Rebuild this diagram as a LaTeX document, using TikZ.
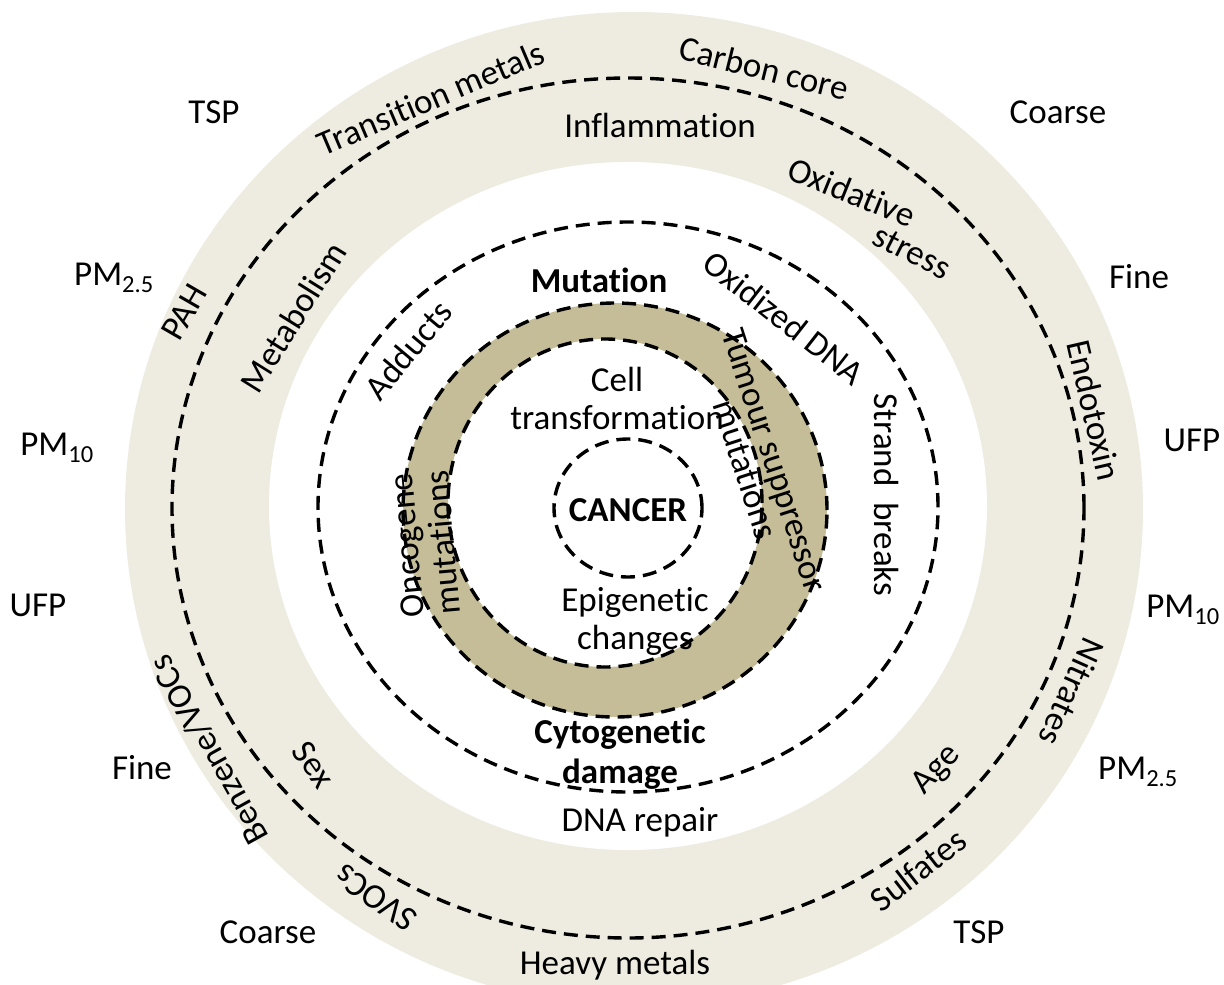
\documentclass[tikz,border=0pt]{standalone}
\usepackage{fontspec}
\setmainfont{Carlito}[Ligatures=NoCommon]
\definecolor{tanlight}{RGB}{238,236,225}
\definecolor{tandark}{RGB}{196,189,151}

\begin{document}
\begin{tikzpicture}[x=1pt,y=-1pt]
\tikzset{dashring/.style={draw=black,line width=3.4pt,dash pattern=on 14pt off 8pt}}
\tikzset{every node/.style={font=\fontsize{35}{38}\selectfont,inner sep=0pt,align=center}}
\tikzset{bold/.style={font=\fontsize{35}{40}\selectfont\bfseries}}
\useasboundingbox (0,0) rectangle (1224,985);
\fill[tanlight] (634,509) ellipse [x radius=509pt, y radius=497pt];
\fill[white] (628,506) ellipse [x radius=359pt, y radius=344pt];
\fill[tandark,even odd rule] (615,510) ellipse [x radius=212pt, y radius=207pt]
  (605,503) ellipse [x radius=157pt, y radius=164pt];
\draw[dashring] (628,508) ellipse [x radius=456pt, y radius=430pt];
\draw[dashring] (628,507) ellipse [x radius=310pt, y radius=285pt];
\draw[dashring] (615,510) ellipse [x radius=212pt, y radius=207pt];
\draw[dashring] (605,503) ellipse [x radius=157pt, y radius=164pt];
\draw[dashring] (628,508) ellipse [x radius=74pt, y radius=69pt];
\node (tspl) at (214,112) {TSP};
\node (pmtwol) at (114,278) {PM\textsubscript{2.5}};
\node (pmtenl) at (57,448) {PM\textsubscript{10}};
\node (ufpl) at (38,605) {UFP};
\node (finel) at (142,768) {Fine};
\node (coarsel) at (268,932) {Coarse};
\node (coarser) at (1058,112) {Coarse};
\node (finer) at (1139,277) {Fine};
\node (ufpr) at (1192,440) {UFP};
\node (pmtenr) at (1183,610) {PM\textsubscript{10}};
\node (pmtwor) at (1138,772) {PM\textsubscript{2.5}};
\node (tspr) at (979,932) {TSP};
\node[rotate=23] (trans) at (431,98) {Transition metals};
\node[rotate=-14] (carbon) at (764,68) {Carbon core};
\node[rotate=60] (pah) at (184,312) {PAH};
\node[rotate=-77] (endo) at (1094,410) {Endotoxin};
\node[rotate=119] (benz) at (209,750) {Benzene/VOCs};
\node[rotate=145] (svoc) at (376,898) {SVOCs};
\node[rotate=-114] (nitr) at (1072,692) {Nitrates};
\node[rotate=38] (sulf) at (918,870) {Sulfates};
\node (heavy) at (615,965) {Heavy metals};
\node (infl) at (660,125) {Inflammation};
\node[rotate=-22] (oxid) at (852,192) {Oxidative};
\node[rotate=-27] (stress) at (912,252) {stress};
\node[rotate=58] (metab) at (293,317) {Metabolism};
\node[rotate=-55] (sex) at (314,765) {Sex};
\node[rotate=47] (age) at (937,770) {Age};
\node (repair) at (640,822) {DNA repair};
\node[bold] (mut) at (599,280) {Mutation};
\node[rotate=50] (add) at (408,350) {Adducts};
\node[rotate=-38] (oxdna) at (784,318) {Oxidized DNA};
\node[rotate=-90] (strand) at (887,495) {Strand\ \ breaks};
\node[rotate=-72,font=\fontsize{35}{25}\selectfont] (tumour) at (760,465) {Tumour suppressor\\mutations};
\node[rotate=95,font=\fontsize{35}{36}\selectfont] (onco) at (425,544) {Oncogene\\mutations};
\node (cell) at (617,398) {Cell\\transformation};
\node[bold] (cancer) at (628,510) {CANCER};
\node (epi) at (635,621) {Epigenetic\\changes};
\node[bold] (cyto) at (620,754) {Cytogenetic\\damage};
\end{tikzpicture}
\end{document}
